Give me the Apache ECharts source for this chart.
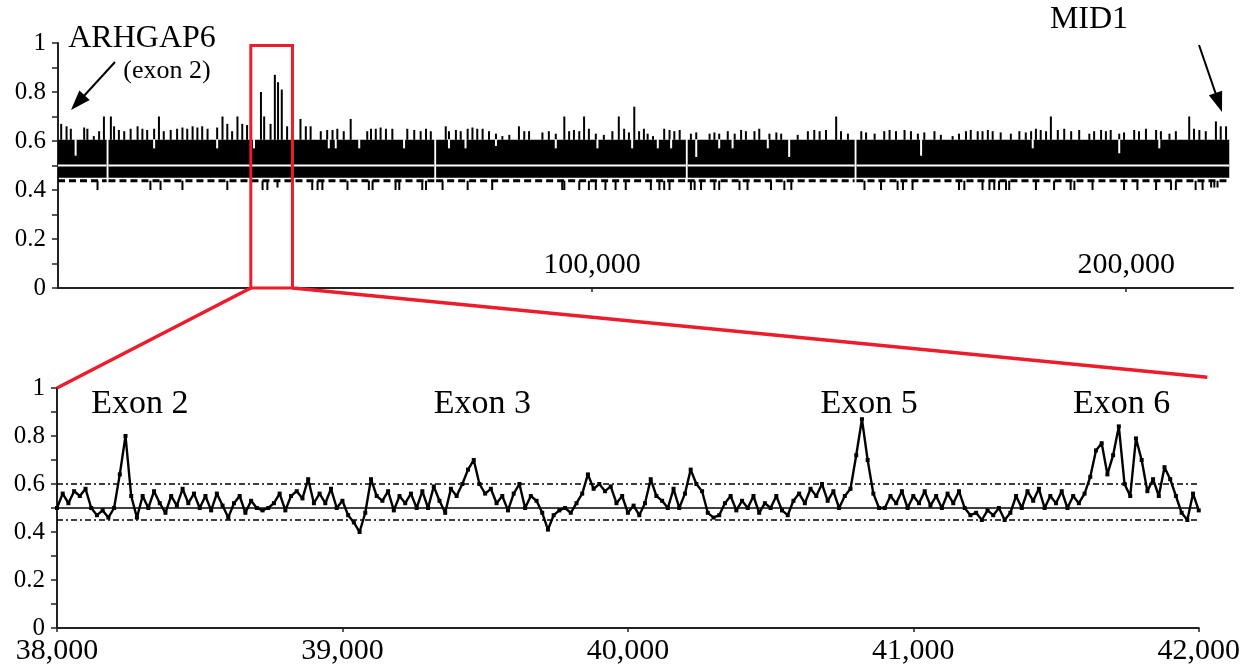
<!DOCTYPE html>
<html>
<head>
<meta charset="utf-8">
<script src="https://cdn.jsdelivr.net/npm/echarts@6/dist/echarts.min.js"></script>
<style>
  html, body { margin: 0; padding: 0; background: #fff; }
  #chart { width: 1243px; height: 669px; }
</style>
</head>
<body>
<div id="chart"></div>
<script>
// ---------- top panel: whole region, 0 - 220,000 ----------
// solid stretches of the window plot (white gaps in between)
const topSegments = [[0, 9100], [9450, 70450], [70800, 117550], [117900, 149150], [149500, 219300]]
// [position, peak] spikes above the band
const topSpikes = [
  [600, 0.67], [1600, 0.66], [2400, 0.65], [4900, 0.655], [5500, 0.65], [6700, 0.62], [7700, 0.64], [8600, 0.70],
  [9900, 0.70], [10500, 0.66], [11400, 0.645], [12400, 0.64], [13600, 0.65], [14900, 0.66], [15800, 0.65], [16700, 0.645],
  [18000, 0.65], [18900, 0.70], [19800, 0.64], [21100, 0.645], [22300, 0.65], [23300, 0.655], [24200, 0.65], [25200, 0.66],
  [26100, 0.655], [27000, 0.66], [28000, 0.65], [29800, 0.655], [30800, 0.70], [31700, 0.67], [32600, 0.64], [33600, 0.70],
  [34500, 0.67], [35400, 0.665], [38000, 0.80], [38600, 0.70], [39800, 0.67], [40600, 0.87], [41200, 0.84], [41900, 0.81],
  [42900, 0.66], [45400, 0.69], [46400, 0.66], [47300, 0.66], [49200, 0.64], [50400, 0.645], [51400, 0.645], [52300, 0.65],
  [53500, 0.64], [54800, 0.69], [57900, 0.64], [58600, 0.65], [59500, 0.65], [60400, 0.655], [61400, 0.65], [62600, 0.65],
  [65400, 0.65], [66700, 0.645], [67900, 0.64], [68900, 0.65], [69800, 0.64], [72600, 0.66], [73200, 0.64], [74500, 0.645],
  [75400, 0.64], [76700, 0.65], [77600, 0.655], [78500, 0.65], [79500, 0.65], [80700, 0.64], [82000, 0.63], [83200, 0.62],
  [84500, 0.625], [86300, 0.66], [87300, 0.64], [88200, 0.64], [90700, 0.635], [91900, 0.64], [93200, 0.63], [94800, 0.70],
  [95700, 0.64], [96600, 0.645], [97600, 0.64], [98500, 0.70], [99400, 0.65], [100700, 0.63], [102200, 0.625], [103800, 0.64],
  [105000, 0.70], [106000, 0.65], [106900, 0.635], [107900, 0.74], [108800, 0.64], [109700, 0.65], [110400, 0.63], [111400, 0.62],
  [113500, 0.65], [114500, 0.645], [115400, 0.64], [116400, 0.645], [118500, 0.63], [119500, 0.635], [122000, 0.63], [122900, 0.635],
  [123800, 0.63], [125400, 0.64], [126700, 0.63], [127900, 0.645], [128800, 0.64], [130400, 0.64], [131300, 0.65], [133200, 0.63],
  [134500, 0.635], [135400, 0.63], [138500, 0.625], [140400, 0.64], [141600, 0.645], [142600, 0.64], [143800, 0.645], [145700, 0.70],
  [146600, 0.64], [147900, 0.63], [150400, 0.64], [151300, 0.635], [152900, 0.63], [154700, 0.64], [155700, 0.645], [156900, 0.64],
  [158500, 0.645], [159700, 0.64], [161000, 0.63], [162200, 0.635], [164100, 0.64], [165300, 0.625], [167500, 0.62], [168700, 0.63],
  [170000, 0.64], [170900, 0.645], [172200, 0.64], [173100, 0.64], [174100, 0.645], [175000, 0.64], [176500, 0.635], [178400, 0.63],
  [180000, 0.64], [181200, 0.635], [182200, 0.64], [183100, 0.65], [184000, 0.645], [185000, 0.64], [185900, 0.70], [187200, 0.645],
  [188400, 0.65], [189700, 0.64], [191200, 0.645], [193100, 0.63], [194000, 0.64], [195300, 0.645], [196200, 0.64], [197100, 0.645],
  [198700, 0.63], [199600, 0.635], [201500, 0.645], [202400, 0.64], [203700, 0.65], [205600, 0.645], [206500, 0.64], [208100, 0.63],
  [209300, 0.64], [211800, 0.70], [212700, 0.65], [213700, 0.645], [214900, 0.64], [216800, 0.68], [217700, 0.66], [218700, 0.66]
]
// [position, low] white notches cut into the top of the band
const topNotches = [
  [3300, 0.54], [18000, 0.57], [29800, 0.57], [36700, 0.57], [50700, 0.57], [52000, 0.57], [56400, 0.57], [64800, 0.57],
  [73200, 0.57], [76300, 0.57], [82000, 0.58], [93200, 0.57], [101000, 0.57], [107500, 0.57], [112300, 0.57], [114800, 0.57],
  [119500, 0.535], [123800, 0.57], [126300, 0.57], [132900, 0.57], [136900, 0.535], [161600, 0.54], [182500, 0.57],
  [198700, 0.55], [206200, 0.57]
]
// [position, low] dips below the band
const topDips = [
  [7400, 0.40], [17300, 0.40], [19200, 0.40], [23300, 0.40], [31700, 0.40], [38300, 0.40], [39200, 0.40], [41100, 0.41],
  [47600, 0.40], [48600, 0.40], [49500, 0.40], [54200, 0.40], [58200, 0.40], [58900, 0.40], [63200, 0.40], [63900, 0.40],
  [68200, 0.40], [68900, 0.40], [72000, 0.40], [76700, 0.40], [81300, 0.40], [94400, 0.40], [94800, 0.40], [97600, 0.40],
  [99400, 0.40], [100700, 0.40], [102500, 0.40], [104400, 0.40], [106300, 0.40], [111000, 0.40], [112600, 0.40], [113500, 0.40],
  [114500, 0.40], [118500, 0.40], [119200, 0.40], [120400, 0.40], [122900, 0.40], [123800, 0.40], [127600, 0.40], [129100, 0.40],
  [133500, 0.40], [136000, 0.40], [137300, 0.40], [151000, 0.40], [154100, 0.40], [157200, 0.40], [158200, 0.40], [160000, 0.40],
  [168700, 0.40], [169700, 0.40], [173100, 0.40], [174400, 0.40], [175300, 0.40], [176200, 0.40], [177500, 0.40], [178100, 0.40],
  [183100, 0.40], [186500, 0.40], [189600, 0.40], [190300, 0.40], [193700, 0.40], [199600, 0.40], [202100, 0.40], [205600, 0.40],
  [208400, 0.40], [209300, 0.40], [213000, 0.40], [214300, 0.40], [215900, 0.41], [216500, 0.41], [217100, 0.41]
]
const topTicks = [100000, 200000]
const zoomRange = [36100, 43900]

// ---------- bottom panel: 38,000 - 42,000, one value every 20 bp ----------
const bottomStart = 38000
const bottomStep = 20
const bottomValues = [
  0.50, 0.56, 0.52, 0.57, 0.55, 0.58, 0.50, 0.47, 0.49, 0.46,
  0.50, 0.64, 0.80, 0.55, 0.46, 0.55, 0.50, 0.57, 0.52, 0.48,
  0.55, 0.51, 0.58, 0.52, 0.56, 0.50, 0.55, 0.49, 0.56, 0.51,
  0.46, 0.52, 0.55, 0.48, 0.53, 0.50, 0.49, 0.50, 0.52, 0.56,
  0.49, 0.55, 0.57, 0.54, 0.62, 0.52, 0.56, 0.52, 0.58, 0.50,
  0.53, 0.47, 0.44, 0.40, 0.48, 0.62, 0.55, 0.53, 0.57, 0.49,
  0.55, 0.52, 0.56, 0.50, 0.57, 0.50, 0.59, 0.53, 0.48, 0.58,
  0.55, 0.60, 0.66, 0.70, 0.60, 0.56, 0.58, 0.52, 0.55, 0.49,
  0.56, 0.60, 0.50, 0.55, 0.53, 0.48, 0.41, 0.47, 0.49, 0.50,
  0.48, 0.52, 0.56, 0.64, 0.58, 0.60, 0.57, 0.59, 0.52, 0.55,
  0.48, 0.51, 0.47, 0.52, 0.62, 0.55, 0.53, 0.50, 0.58, 0.50,
  0.56, 0.66, 0.60, 0.57, 0.48, 0.46, 0.47, 0.52, 0.55, 0.49,
  0.53, 0.50, 0.55, 0.48, 0.52, 0.50, 0.55, 0.49, 0.47, 0.53,
  0.56, 0.52, 0.58, 0.55, 0.60, 0.53, 0.57, 0.50, 0.55, 0.58,
  0.72, 0.87, 0.70, 0.56, 0.50, 0.50, 0.55, 0.52, 0.57, 0.50,
  0.55, 0.52, 0.57, 0.51, 0.55, 0.50, 0.56, 0.52, 0.57, 0.50,
  0.47, 0.48, 0.45, 0.49, 0.47, 0.50, 0.45, 0.48, 0.55, 0.50,
  0.57, 0.53, 0.58, 0.50, 0.55, 0.52, 0.57, 0.50, 0.55, 0.52,
  0.56, 0.63, 0.74, 0.77, 0.64, 0.72, 0.84, 0.60, 0.55, 0.79,
  0.70, 0.57, 0.62, 0.55, 0.67, 0.62, 0.55, 0.48, 0.45, 0.56,
  0.49
]
const exonNames = ['Exon 2', 'Exon 3', 'Exon 5', 'Exon 6']
const exonPos = [38290, 39490, 40845, 41730]

// reference levels
const meanLevel = 0.5
const upperLevel = 0.605
const lowerLevel = 0.445
const topBandLow = 0.45
const topDashLevel = 0.438

const FONT = "'Liberation Serif', 'Times New Roman', serif"
const RED = '#ec1c2c'

const chart = echarts.init(document.getElementById('chart'))

const fmt = v => Math.round(v).toLocaleString('en-US')
const yAxisBase = {
  type: 'value', min: 0, max: 1, interval: 0.2,
  axisLine: { show: true, lineStyle: { color: '#222', width: 2 } },
  axisTick: { show: true, length: 6, lineStyle: { color: '#222', width: 1.5 } },
  minorTick: { show: true, splitNumber: 2, length: 6, lineStyle: { color: '#222', width: 1.5 } },
  splitLine: { show: false },
  axisLabel: { color: '#000', fontFamily: FONT, fontSize: 25, margin: 12 },
}

function vbar(api, x, y0, y1, color, w) {
  const a = api.coord([x, y0]), b = api.coord([x, y1])
  return { type: 'rect', shape: { x: a[0] - w / 2, y: Math.min(a[1], b[1]), width: w, height: Math.abs(b[1] - a[1]) }, style: { fill: color } }
}

const bottomData = bottomValues.map((v, i) => [bottomStart + i * bottomStep, v])

chart.setOption({
  animation: false,
  grid: [
    { left: 58, right: 10, top: 43, bottom: 381 },
    { left: 57, right: 40, top: 388, bottom: 41 },
  ],
  xAxis: [
    {
      type: 'value', gridIndex: 0, min: 0, max: 220000,
      axisLine: { lineStyle: { color: '#222', width: 2 } },
      axisTick: { show: true, customValues: topTicks, length: 4, lineStyle: { color: '#222', width: 1.5 } },
      axisLabel: { customValues: topTicks, inside: true, margin: 8, formatter: fmt, color: '#000', fontFamily: FONT, fontSize: 30 },
      splitLine: { show: false },
    },
    {
      type: 'value', gridIndex: 1, min: 38000, max: 42000, interval: 1000,
      axisLine: { lineStyle: { color: '#222', width: 2 } },
      axisTick: { show: true, length: 4, lineStyle: { color: '#222', width: 1.5 } },
      axisLabel: { margin: 8, formatter: fmt, color: '#000', fontFamily: FONT, fontSize: 30 },
      splitLine: { show: false },
    },
  ],
  yAxis: [
    Object.assign({ gridIndex: 0 }, yAxisBase),
    Object.assign({ gridIndex: 1 }, yAxisBase),
  ],
  series: [
    {
      // black band of the sliding-window plot
      type: 'custom', xAxisIndex: 0, yAxisIndex: 0, data: topSegments, encode: { x: [0, 1] },
      renderItem: (params, api) => {
        const x0 = api.value(0), x1 = api.value(1)
        const p0 = api.coord([x0, upperLevel]), p1 = api.coord([x1, topBandLow])
        const m0 = api.coord([x0, meanLevel]), m1 = api.coord([x1, meanLevel])
        const d0 = api.coord([x0, topDashLevel]), d1 = api.coord([x1, topDashLevel])
        return {
          type: 'group', children: [
            { type: 'rect', shape: { x: p0[0], y: p0[1], width: p1[0] - p0[0], height: p1[1] - p0[1] }, style: { fill: '#000' } },
            { type: 'line', shape: { x1: d0[0], y1: d0[1], x2: d1[0], y2: d1[1] }, style: { stroke: '#000', lineWidth: 3, lineDash: [7, 4] } },
            { type: 'line', shape: { x1: m0[0], y1: m0[1], x2: m1[0], y2: m1[1] }, style: { stroke: '#fff', lineWidth: 2 } },
          ]
        }
      },
    },
    {
      type: 'custom', xAxisIndex: 0, yAxisIndex: 0, data: topSpikes, encode: { x: 0, y: 1 },
      renderItem: (params, api) => vbar(api, api.value(0), upperLevel, api.value(1), '#000', 2),
    },
    {
      type: 'custom', xAxisIndex: 0, yAxisIndex: 0, data: topNotches, encode: { x: 0, y: 1 },
      renderItem: (params, api) => vbar(api, api.value(0), upperLevel + 0.002, api.value(1), '#fff', 2),
    },
    {
      type: 'custom', xAxisIndex: 0, yAxisIndex: 0, data: topDips, encode: { x: 0, y: 1 },
      renderItem: (params, api) => vbar(api, api.value(0), topDashLevel, api.value(1), '#000', 2),
    },
    {
      // zoomed window marker
      type: 'custom', xAxisIndex: 0, yAxisIndex: 0, data: [zoomRange], encode: { x: [0, 1] },
      renderItem: (params, api) => {
        const a = api.coord([api.value(0), 0.99]), b = api.coord([api.value(1), 0])
        return { type: 'rect', shape: { x: a[0], y: a[1], width: b[0] - a[0], height: b[1] - a[1] }, style: { fill: 'none', stroke: RED, lineWidth: 3 }, z2: 10 }
      },
    },
    {
      type: 'line', xAxisIndex: 1, yAxisIndex: 1, data: bottomData,
      showSymbol: true, symbol: 'rect', symbolSize: 4,
      itemStyle: { color: '#000' },
      lineStyle: { color: '#000', width: 2.4 },
      markLine: {
        silent: true, symbol: 'none', label: { show: false },
        data: [
          { yAxis: meanLevel, lineStyle: { color: '#000', width: 1.5, type: 'solid' } },
          { yAxis: upperLevel, lineStyle: { color: '#000', width: 1.5, type: [6, 3, 2, 3] } },
          { yAxis: lowerLevel, lineStyle: { color: '#000', width: 1.5, type: [6, 3, 2, 3] } },
        ],
      },
    },
  ],
})

// annotations placed through the axes
function arrow(x1, y1, x2, y2) {
  const ang = Math.atan2(y2 - y1, x2 - x1), c = Math.cos(ang), s = Math.sin(ang)
  const hl = 20, hw = 7
  return [
    { type: 'line', shape: { x1, y1, x2: x2 - c * hl * 0.8, y2: y2 - s * hl * 0.8 }, style: { stroke: '#000', lineWidth: 2 } },
    { type: 'polygon', shape: { points: [[x2, y2], [x2 - hl * c + hw * s, y2 - hl * s - hw * c], [x2 - hl * c - hw * s, y2 - hl * s + hw * c]] }, style: { fill: '#000' } },
  ]
}

const a0 = chart.convertToPixel({ gridIndex: 0 }, [zoomRange[0], 0])
const a1 = chart.convertToPixel({ gridIndex: 0 }, [zoomRange[1], 0])
const b0 = chart.convertToPixel({ gridIndex: 1 }, [38000, 1])
const b1 = chart.convertToPixel({ gridIndex: 1 }, [42030, 1.045])

const graphics = [
  { type: 'line', shape: { x1: a0[0], y1: a0[1], x2: b0[0], y2: b0[1] }, style: { stroke: RED, lineWidth: 3.5 }, z: 20 },
  { type: 'line', shape: { x1: a1[0], y1: a1[1], x2: b1[0], y2: b1[1] }, style: { stroke: RED, lineWidth: 3.5 }, z: 20 },
  { type: 'text', x: 142, y: 39, style: { text: 'ARHGAP6', font: `32px ${FONT}`, fill: '#000', textAlign: 'center', textVerticalAlign: 'middle' } },
  { type: 'text', x: 167, y: 71, style: { text: '(exon 2)', font: `26px ${FONT}`, fill: '#000', textAlign: 'center', textVerticalAlign: 'middle' } },
  { type: 'text', x: 1089, y: 20, style: { text: 'MID1', font: `32px ${FONT}`, fill: '#000', textAlign: 'center', textVerticalAlign: 'middle' } },
  ...arrow(115, 62, 71, 110),
  ...arrow(1199, 45, 1222, 112),
]
exonNames.forEach((name, i) => {
  const p = chart.convertToPixel({ gridIndex: 1 }, [exonPos[i], 0.933])
  graphics.push({ type: 'text', x: p[0], y: p[1], style: { text: name, font: `34px ${FONT}`, fill: '#000', textAlign: 'center', textVerticalAlign: 'middle' } })
})
chart.setOption({ graphic: graphics })
</script>
</body>
</html>
